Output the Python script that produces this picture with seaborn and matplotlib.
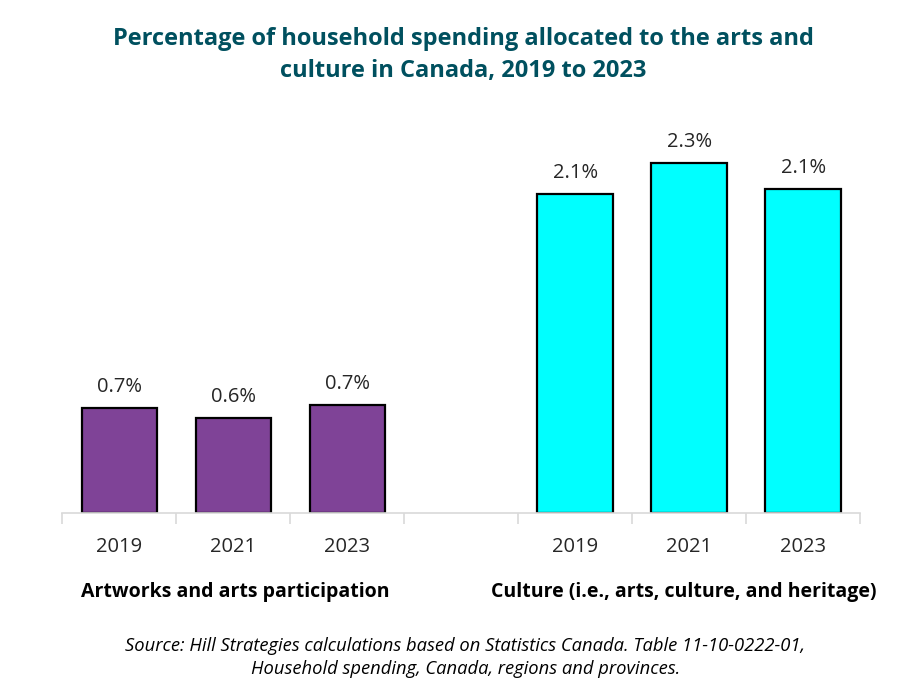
import pandas as pd
import matplotlib.pyplot as plt
import seaborn as sns

# Data
years = ['2019', '2021', '2023']
groups = ['Artworks and arts participation',
          'Culture (i.e., arts, culture, and heritage)']
arts_values = [0.69, 0.625, 0.71]
culture_values = [2.10, 2.30, 2.13]
value_labels = ['0.7%', '0.6%', '0.7%', '2.1%', '2.3%', '2.1%']
title = ('Percentage of household spending allocated to the arts and\n'
         'culture in Canada, 2019 to 2023')
source = ('Source: Hill Strategies calculations based on Statistics Canada. Table 11-10-0222-01,\n'
          'Household spending, Canada, regions and provinces.')

def main():
    sns.set_style('white')
    plt.rcParams['font.family'] = ['Open Sans', 'DejaVu Sans']

    # One slot per bar, with an empty slot between the two groups
    df = pd.DataFrame({
        'slot': [f'a{y}' for y in years] + [f'c{y}' for y in years],
        'year': years + years,
        'group': [groups[0]] * 3 + [groups[1]] * 3,
        'value': arts_values + culture_values,
    })
    order = list(df['slot'][:3]) + ['gap'] + list(df['slot'][3:])

    fig = plt.figure(figsize=(9.14, 6.98), dpi=100)
    ax = fig.add_axes([0.068, 0.265, 0.873, 0.563])

    sns.barplot(data=df, x='slot', y='value', hue='group', order=order,
                palette=['#7F4397', '#00FFFF'], saturation=1, dodge=False,
                width=0.66, edgecolor='black', linewidth=1.6, legend=False, ax=ax)

    # value labels above the bars
    labels_iter = iter(value_labels)
    for cont in ax.containers:
        n = len(cont)
        ax.bar_label(cont, labels=[next(labels_iter) for _ in range(n)],
                     padding=8, fontsize=14.5, color='#262626')

    ax.set_xlim(-0.5, 6.5)
    ax.set_ylim(0, 2.585)
    ax.set_xticks(range(7))
    ax.set_xticklabels(years + [''] + years, fontsize=14.5, color='#262626')
    ax.set_xticks([i - 0.5 for i in range(8)], minor=True)
    ax.tick_params(axis='x', which='major', length=0, pad=17)
    ax.tick_params(axis='x', which='minor', bottom=True, direction='out',
                   length=8, width=1.2, color='#D9D9D9')
    ax.set_yticks([])
    ax.set_xlabel('')
    ax.set_ylabel('')
    for s in ['top', 'right', 'left']:
        ax.spines[s].set_visible(False)
    ax.spines['bottom'].set_color('#D9D9D9')
    ax.spines['bottom'].set_linewidth(1.2)

    # group labels under the year labels
    trans = ax.get_xaxis_transform()
    ax.text(1.02, -0.2, groups[0], transform=trans, ha='center', va='center',
            fontsize=14, fontweight='bold', color='black')
    ax.text(4.95, -0.2, groups[1], transform=trans, ha='center', va='center',
            fontsize=14, fontweight='bold', color='black')

    fig.text(0.507, 0.921, title, ha='center', va='center', fontsize=17,
             fontweight='bold', color='#00505F', linespacing=1.45)
    fig.text(0.509, 0.058, source, ha='center', va='center', fontsize=13.2,
             style='italic', color='black', linespacing=1.3)

    fig.savefig('out.png', dpi=100)
    plt.close(fig)

if __name__ == '__main__':
    main()
